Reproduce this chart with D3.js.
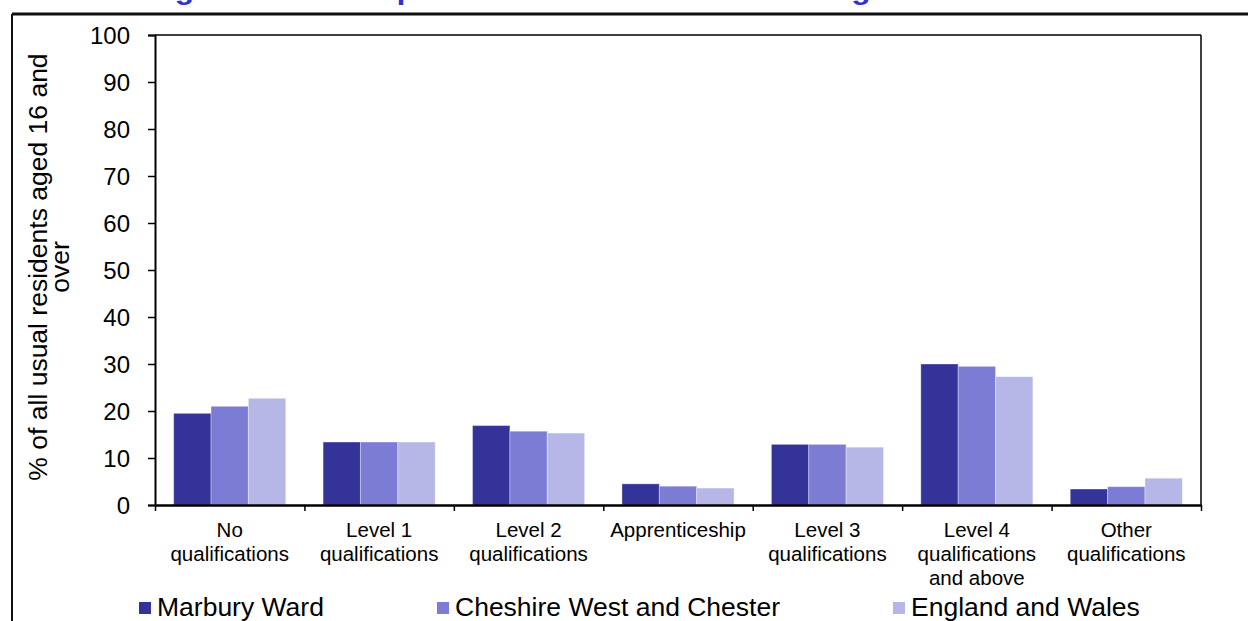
<!DOCTYPE html>
<html><head><meta charset="utf-8">
<script src="https://cdn.jsdelivr.net/npm/d3@7"></script>
<style>html,body{margin:0;padding:0;background:#fff;}svg{display:block;font-family:"Liberation Sans",Arial,sans-serif;}</style>
</head><body>
<svg id="chart" width="1248" height="621"></svg>
<script>
const title = "Highest level of qualification: usual residents aged 16 and over";
const categories = [["No","qualifications"],["Level 1","qualifications"],["Level 2","qualifications"],["Apprenticeship"],["Level 3","qualifications"],["Level 4","qualifications","and above"],["Other","qualifications"]];
const seriesNames = ["Marbury Ward","Cheshire West and Chester","England and Wales"];
const marbury = [19.5, 13.4, 16.9, 4.5, 12.9, 30.0, 3.4];
const cheshire = [21.0, 13.4, 15.7, 4.0, 12.9, 29.5, 3.9];
const englandWales = [22.7, 13.4, 15.3, 3.6, 12.3, 27.3, 5.7];
const yTicks = [0,10,20,30,40,50,60,70,80,90,100];
const colors = ["#333399","#7c7cd4","#b6b6e7"];

const series = [marbury, cheshire, englandWales];
const svg = d3.select("#chart");
const m = {left:155, right:1201, top:35, bottom:505};

// outer frame
svg.append("line").attr("x1",12).attr("x2",1248).attr("y1",14).attr("y2",14).attr("stroke","#111").attr("stroke-width",3);
svg.append("line").attr("x1",12).attr("x2",12).attr("y1",14).attr("y2",621).attr("stroke","#111").attr("stroke-width",2);

// title (clipped at the top edge, as in the reference)
svg.append("text").attr("transform","translate(143,-1.5) scale(1.175,1)")
  .attr("font-size",27).attr("font-weight","bold").attr("fill","#3333cc").text(title);

const catIdx = categories.map((c,i)=>i);
const x0 = d3.scaleBand().domain(catIdx).range([m.left,m.right]).padding(0);
const x1 = d3.scaleBand().domain([0,1,2]).range([0,x0.bandwidth()]).paddingInner(0).paddingOuter(0.5);
const y = d3.scaleLinear().domain([0,100]).range([m.bottom,m.top]);

// plot box top/right
svg.append("line").attr("x1",m.left).attr("x2",m.right).attr("y1",m.top).attr("y2",m.top).attr("stroke","#000").attr("stroke-width",1.5);
svg.append("line").attr("x1",m.right).attr("x2",m.right).attr("y1",m.top).attr("y2",m.bottom).attr("stroke","#000").attr("stroke-width",1.5);

// bars
const g = svg.append("g");
catIdx.forEach(ci=>{
  series.forEach((s,si)=>{
    g.append("rect").attr("x",x0(ci)+x1(si)).attr("width",x1.bandwidth())
      .attr("y",y(s[ci])).attr("height",y(0)-y(s[ci]))
      .attr("fill",colors[si]).attr("stroke","rgba(255,255,255,0.35)").attr("stroke-width",1);
  });
});

// y axis
const yAxis = svg.append("g").attr("transform",`translate(${m.left},0)`)
  .call(d3.axisLeft(y).tickValues(yTicks).tickSize(7).tickPadding(18))
  .attr("font-family",null).attr("font-size",null);
yAxis.select(".domain").attr("stroke","#000").attr("stroke-width",2);
yAxis.selectAll(".tick line").attr("stroke","#000").attr("stroke-width",1.5);
yAxis.selectAll(".tick text").attr("font-size",24).attr("fill","#000").attr("dy","0.36em");

// x axis
const boundaries = catIdx.map(i=>x0(i)).concat([m.right]);
const xb = d3.scaleLinear().domain([m.left,m.right]).range([m.left,m.right]);
const xAxis = svg.append("g").attr("transform",`translate(0,${m.bottom})`)
  .call(d3.axisBottom(xb).tickValues(boundaries).tickSize(6).tickSizeOuter(0).tickFormat(""));
xAxis.select(".domain").attr("stroke","#000").attr("stroke-width",2.5);
xAxis.selectAll(".tick line").attr("stroke","#000").attr("stroke-width",1.5);

// category labels
catIdx.forEach(ci=>{
  const cx = x0(ci)+x0.bandwidth()/2;
  categories[ci].forEach((line,li)=>{
    svg.append("text").attr("x",cx).attr("y",537+li*24)
      .attr("text-anchor","middle").attr("font-size",20.5).attr("fill","#000").text(line);
  });
});

// y title
const yt = svg.append("text").attr("transform","translate(47,267) rotate(-90)")
  .attr("text-anchor","middle").attr("font-size",26.5).attr("fill","#000");
yt.append("tspan").attr("x",0).attr("dy",0).text("% of all usual residents aged 16 and");
yt.append("tspan").attr("x",0).attr("dy",22).text("over");

// legend
const legX = [139,437,893];
seriesNames.forEach((n,i)=>{
  svg.append("rect").attr("x",legX[i]).attr("y",602).attr("width",12).attr("height",12).attr("fill",colors[i]);
  svg.append("text").attr("x",legX[i]+18).attr("y",616)
    .attr("font-size",26.5).attr("fill","#000").text(n);
});
</script>
</body></html>
